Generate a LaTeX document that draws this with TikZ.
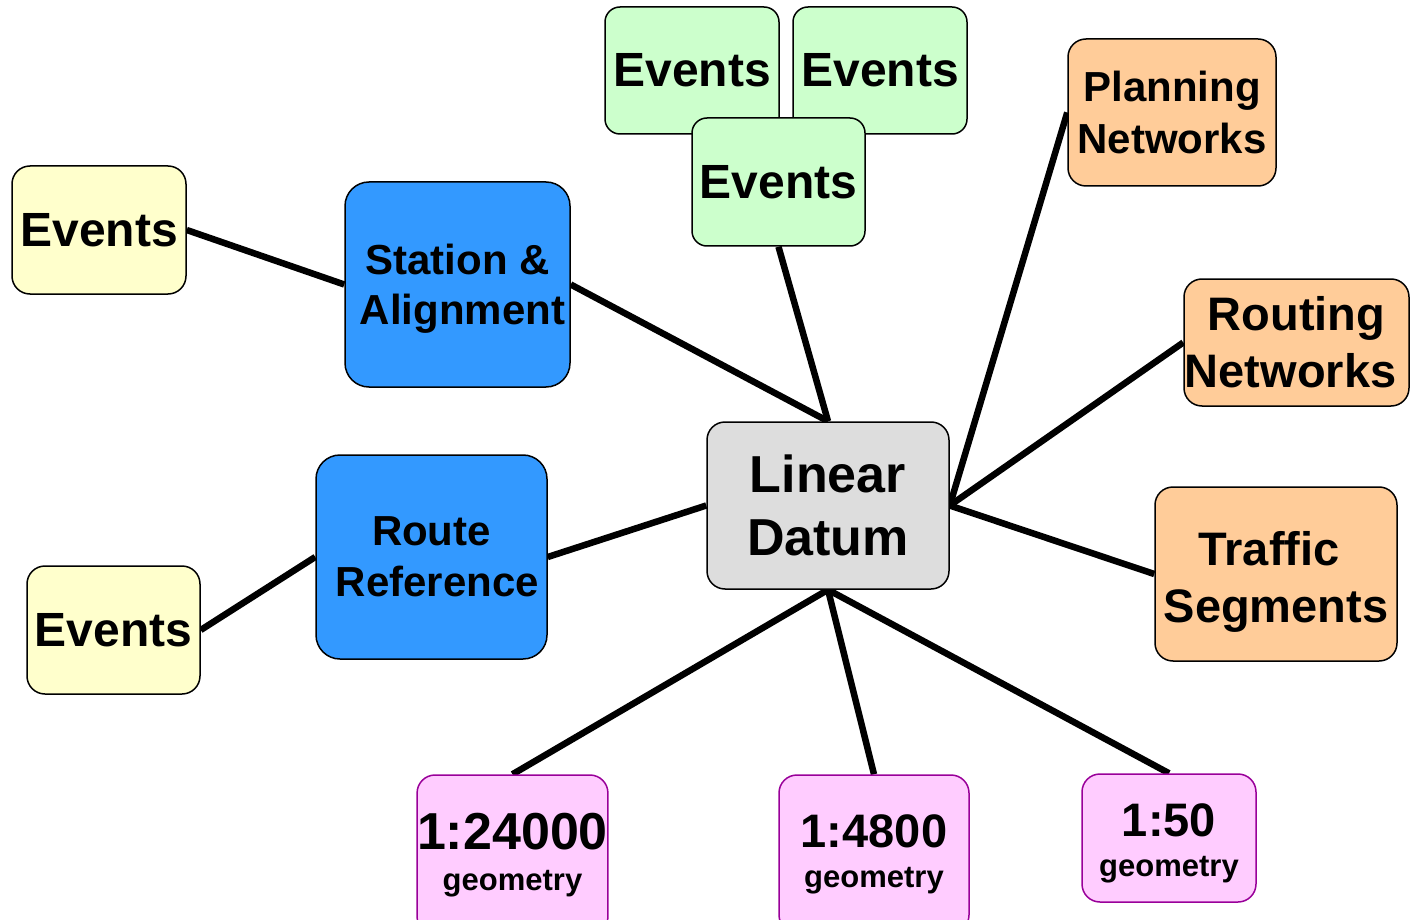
\documentclass[tikz,border=0pt]{standalone}
\usepackage{fontspec}
\setmainfont{Liberation Sans}
\usetikzlibrary{calc}
\definecolor{yelfill}{HTML}{FFFFCC}
\definecolor{grnfill}{HTML}{CCFFCC}
\definecolor{bluefill}{HTML}{3399FF}
\definecolor{grayfill}{HTML}{DDDDDD}
\definecolor{orgfill}{HTML}{FFCC99}
\definecolor{pinkfill}{HTML}{FFCCFF}
\definecolor{pinkdraw}{HTML}{990099}
\pgfdeclarelayer{bg}
\pgfsetlayers{bg,main}
\begin{document}
\begin{tikzpicture}[x=1pt,y=-1pt,
  box/.style={draw=black, line width=1.5pt, rounded corners=18pt, inner sep=0pt, align=center},
  yelbox/.style={box, fill=yelfill, font=\bfseries\fontsize{48}{52}\selectfont},
  grnbox/.style={box, fill=grnfill, rounded corners=15pt, font=\bfseries\fontsize{48}{52}\selectfont},
  bluebox/.style={box, fill=bluefill, rounded corners=24pt, font=\bfseries\fontsize{42}{51}\selectfont},
  graybox/.style={box, fill=grayfill, font=\bfseries\fontsize{52}{63}\selectfont},
  orgbox/.style={box, fill=orgfill},
  pinkbox/.style={box, draw=pinkdraw, fill=pinkfill},
  conn/.style={line width=6.5pt, draw=black},
  bigA/.style={font=\bfseries\fontsize{42}{52}\selectfont},
  bigB/.style={font=\bfseries\fontsize{47}{57}\selectfont},
  geoA/.style={font=\bfseries\fontsize{31}{41}\selectfont},
  geoB/.style={font=\bfseries\fontsize{31}{40}\selectfont},
]
\useasboundingbox (0,0) rectangle (1414,920);
\clip (0,0) rectangle (1414,920);

% left side
\node[yelbox, minimum width=174pt, minimum height=128pt] (ev1) at (99,230) {Events};
\node[yelbox, minimum width=173pt, minimum height=128pt] (ev2) at (113.5,630) {Events};
\node[bluebox, font=\bfseries\fontsize{42}{50}\selectfont, minimum width=225pt, minimum height=205pt] (sta) at (457.5,284.5) {\rule{0pt}{39pt}Station \&\\\hbox{}\kern10pt Alignment};
\node[bluebox, minimum width=231pt, minimum height=204pt] (rte) at (431.5,557) {Route\\\hbox{}\kern12pt Reference};

% center
\node[graybox, minimum width=242pt, minimum height=167pt] (ld) at (828,505.5) {Linear\\Datum};

% top events
\node[grnbox, minimum width=174pt, minimum height=127pt] (g1) at (692,70.5) {Events};
\node[grnbox, minimum width=174pt, minimum height=127pt] (g2) at (880,70.5) {Events};
\node[grnbox, minimum width=173pt, minimum height=128pt] (g3) at (778.5,182) {Events};

% right side
\node[orgbox, bigA, minimum width=208pt, minimum height=147pt] (pn) at (1172,112.5) {Planning\\Networks};
\node[orgbox, bigB, minimum width=225pt, minimum height=127pt] (rn) at (1296.5,342.5) {Routing\\Networks\kern12pt};
\node[orgbox, bigB, minimum width=242pt, minimum height=174pt] (ts) at (1276,574) {\rule{0pt}{49pt}Traffic\kern14pt\\Segments};

% bottom geometry
\node[pinkbox, geoA, minimum width=189pt, minimum height=160pt] (s1) at (512.5,855)
  {{\fontsize{52}{41}\selectfont 1:24000}\\geometry};
\node[pinkbox, geoB, minimum width=190pt, minimum height=158pt] (s2) at (874,854)
  {{\fontsize{47}{40}\selectfont 1:4800}\\geometry};
\node[pinkbox, geoB, minimum width=174pt, minimum height=128pt] (s3) at (1169,838)
  {\rule{0pt}{44pt}{\fontsize{47}{40}\selectfont 1:50}\\geometry};

\begin{pgfonlayer}{bg}
\draw[conn] (ev1.east) -- (sta.west);
\draw[conn] (sta.east) -- (ld.north);
\draw[conn] (g3.south) -- (ld.north);
\draw[conn] (pn.west) -- (ld.east);
\draw[conn] (rn.west) -- (ld.east);
\draw[conn] (ts.west) -- (ld.east);
\draw[conn] (rte.east) -- (ld.west);
\draw[conn] (ev2.east) -- (rte.west);
\draw[conn] (ld.south) -- (s1.north);
\draw[conn] (ld.south) -- (s2.north);
\draw[conn] (ld.south) -- (s3.north);
\end{pgfonlayer}
\end{tikzpicture}
\end{document}
